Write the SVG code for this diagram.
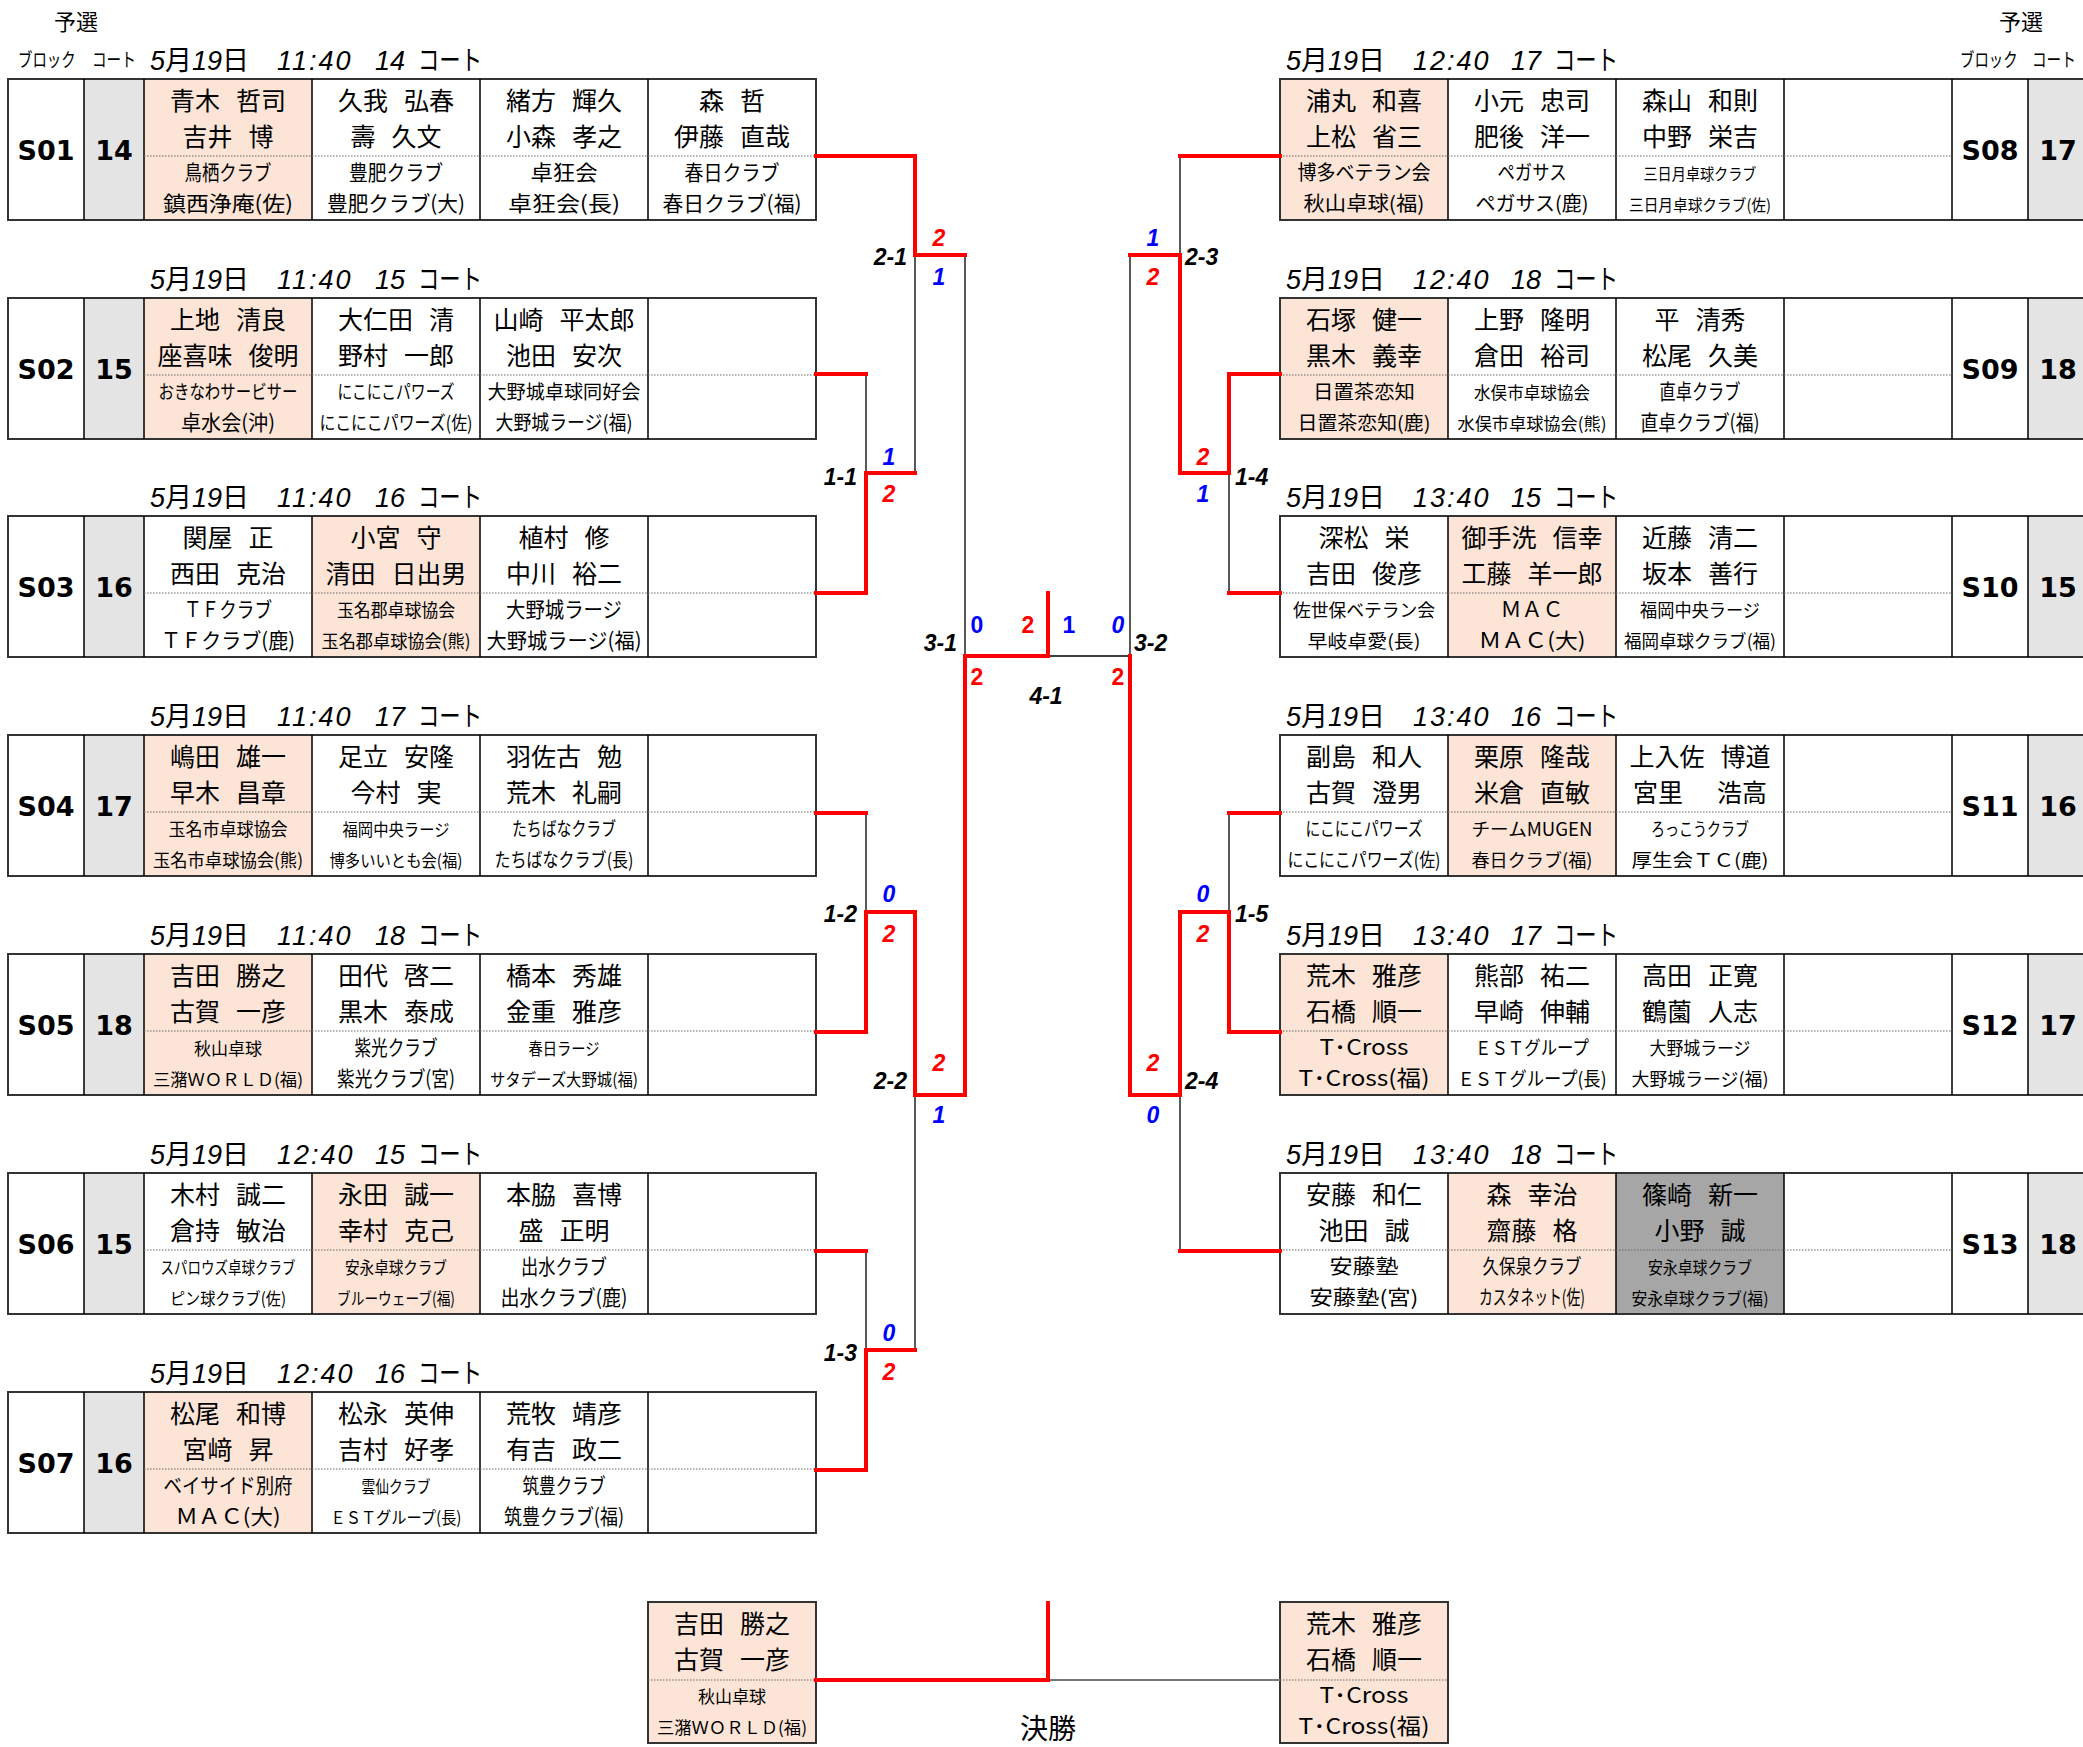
<svg xmlns="http://www.w3.org/2000/svg" xmlns:xlink="http://www.w3.org/1999/xlink" width="2083" height="1747" viewBox="0 0 2083 1747">
<style>
text{font-family:"Noto Sans CJK JP","Noto Sans CJK SC",sans-serif;fill:#000}
.nm{font-size:25px;text-anchor:middle}
.c{text-anchor:middle}
.dt{font-size:27px}
.it{font-family:"Liberation Sans",sans-serif;font-style:italic;font-size:27px}
.ls{letter-spacing:2px}
.bk{font-family:"DejaVu Sans",sans-serif;font-weight:bold;font-size:27px;text-anchor:middle}
.sc{font-family:"Liberation Sans",sans-serif;font-weight:bold;font-style:italic;font-size:23px;text-anchor:middle}
.su{font-style:normal}
.r{fill:#f00}.b{fill:#00f}
.lb{font-family:"Liberation Sans",sans-serif;font-weight:bold;font-style:italic;font-size:23px}
.hd{font-size:19px}
.red{stroke:#f00;stroke-width:4;fill:none;stroke-linejoin:miter;stroke-linecap:square}
.thin{stroke:#000;stroke-width:1.3;fill:none}
.fr{fill:none;stroke:#333;stroke-width:2}
.vl{stroke:#000;stroke-width:1.5;fill:none}
.hl{fill:#fce4d6}
.gr{fill:#e4e4e4}
.dk{fill:#a6a6a6}
.dot{stroke:#666;stroke-width:1;stroke-dasharray:1.5 1.5;fill:none}
</style>
<defs>
<g id="lf">
<rect class="gr" x="84" y="0" width="60" height="141"/>
<rect class="fr" x="8" y="0" width="808" height="141"/>
<path class="vl" d="M84,0V141M144,0V141M312,0V141M480,0V141M648,0V141"/>
<path class="dot" d="M144,77H816"/>
</g>
<g id="rf">
<rect class="gr" x="2028" y="0" width="60" height="141"/>
<rect class="fr" x="1280" y="0" width="808" height="141"/>
<path class="vl" d="M1448,0V141M1616,0V141M1784,0V141M1952,0V141M2028,0V141"/>
<path class="dot" d="M1280,77H1952"/>
</g>
</defs>
<rect x="0" y="0" width="2083" height="1747" fill="#fff"/>

<g id="headers">
<text x="54" y="30" font-size="22">予選</text>
<text class="hd" transform="translate(18,67) scale(0.76,1)">ブロック</text>
<text class="hd" transform="translate(92,67) scale(0.77,1)">コート</text>
<text x="1999" y="30" font-size="22">予選</text>
<text class="hd" transform="translate(1960,67) scale(0.76,1)">ブロック</text>
<text class="hd" transform="translate(2032,67) scale(0.77,1)">コート</text>
</g>

<!-- LEFT TABLES -->
<g id="S01" transform="translate(0,79)">
<rect class="hl" x="144" y="0" width="168" height="141"/>
<use href="#lf"/>
<text class="dt" y="-9"><tspan x="150" class="it">5</tspan>月<tspan class="it">19</tspan>日<tspan x="277" class="it ls">11:40</tspan><tspan x="375" class="it">14</tspan></text>
<text class="dt" x="418" y="-9" textLength="64" lengthAdjust="spacingAndGlyphs">コート</text>
<text class="bk" x="46" y="81">S01</text><text class="bk" x="114" y="81">14</text>
<text class="nm" x="228" y="31">青木<tspan dx="16">哲司</tspan></text><text class="nm" x="228" y="67">吉井<tspan dx="16">博</tspan></text>
<text class="c" x="228" y="101" font-size="21" textLength="87" lengthAdjust="spacingAndGlyphs">鳥栖クラブ</text>
<text class="c" x="228" y="132" font-size="21" textLength="130" lengthAdjust="spacingAndGlyphs">鎮西浄庵(佐)</text>
<text class="nm" x="396" y="31">久我<tspan dx="16">弘春</tspan></text><text class="nm" x="396" y="67">壽<tspan dx="16">久文</tspan></text>
<text class="c" x="396" y="101" font-size="21" textLength="94" lengthAdjust="spacingAndGlyphs">豊肥クラブ</text>
<text class="c" x="396" y="132" font-size="21" textLength="138" lengthAdjust="spacingAndGlyphs">豊肥クラブ(大)</text>
<text class="nm" x="564" y="31">緒方<tspan dx="16">輝久</tspan></text><text class="nm" x="564" y="67">小森<tspan dx="16">孝之</tspan></text>
<text class="c" x="564" y="101" font-size="21" textLength="67" lengthAdjust="spacingAndGlyphs">卓狂会</text>
<text class="c" x="564" y="132" font-size="21" textLength="112" lengthAdjust="spacingAndGlyphs">卓狂会(長)</text>
<text class="nm" x="732" y="31">森<tspan dx="16">哲</tspan></text><text class="nm" x="732" y="67">伊藤<tspan dx="16">直哉</tspan></text>
<text class="c" x="732" y="101" font-size="21" textLength="95" lengthAdjust="spacingAndGlyphs">春日クラブ</text>
<text class="c" x="732" y="132" font-size="21" textLength="139" lengthAdjust="spacingAndGlyphs">春日クラブ(福)</text>
</g>

<g id="S02" transform="translate(0,298)">
<rect class="hl" x="144" y="0" width="168" height="141"/>
<use href="#lf"/>
<text class="dt" y="-9"><tspan x="150" class="it">5</tspan>月<tspan class="it">19</tspan>日<tspan x="277" class="it ls">11:40</tspan><tspan x="375" class="it">15</tspan></text>
<text class="dt" x="418" y="-9" textLength="64" lengthAdjust="spacingAndGlyphs">コート</text>
<text class="bk" x="46" y="81">S02</text><text class="bk" x="114" y="81">15</text>
<text class="nm" x="228" y="31">上地<tspan dx="16">清良</tspan></text><text class="nm" x="228" y="67">座喜味<tspan dx="16">俊明</tspan></text>
<text class="c" x="228" y="101" font-size="19" textLength="139" lengthAdjust="spacingAndGlyphs">おきなわサービサー</text>
<text class="c" x="228" y="132" font-size="21" textLength="94" lengthAdjust="spacingAndGlyphs">卓水会(沖)</text>
<text class="nm" x="396" y="31">大仁田<tspan dx="16">清</tspan></text><text class="nm" x="396" y="67">野村<tspan dx="16">一郎</tspan></text>
<text class="c" x="396" y="101" font-size="19" textLength="117" lengthAdjust="spacingAndGlyphs">にこにこパワーズ</text>
<text class="c" x="396" y="132" font-size="19" textLength="153" lengthAdjust="spacingAndGlyphs">にこにこパワーズ(佐)</text>
<text class="nm" x="564" y="31">山崎<tspan dx="16">平太郎</tspan></text><text class="nm" x="564" y="67">池田<tspan dx="16">安次</tspan></text>
<text class="c" x="564" y="101" font-size="19" textLength="153" lengthAdjust="spacingAndGlyphs">大野城卓球同好会</text>
<text class="c" x="564" y="132" font-size="20" textLength="137" lengthAdjust="spacingAndGlyphs">大野城ラージ(福)</text>
</g>

<g id="S03" transform="translate(0,516)">
<rect class="hl" x="312" y="0" width="168" height="141"/>
<use href="#lf"/>
<text class="dt" y="-9"><tspan x="150" class="it">5</tspan>月<tspan class="it">19</tspan>日<tspan x="277" class="it ls">11:40</tspan><tspan x="375" class="it">16</tspan></text>
<text class="dt" x="418" y="-9" textLength="64" lengthAdjust="spacingAndGlyphs">コート</text>
<text class="bk" x="46" y="81">S03</text><text class="bk" x="114" y="81">16</text>
<text class="nm" x="228" y="31">関屋<tspan dx="16">正</tspan></text><text class="nm" x="228" y="67">西田<tspan dx="16">克治</tspan></text>
<text class="c" x="228" y="101" font-size="21" textLength="88" lengthAdjust="spacingAndGlyphs">ＴＦクラブ</text>
<text class="c" x="228" y="132" font-size="21" textLength="134" lengthAdjust="spacingAndGlyphs">ＴＦクラブ(鹿)</text>
<text class="nm" x="396" y="31">小宮<tspan dx="16">守</tspan></text><text class="nm" x="396" y="67">清田<tspan dx="16">日出男</tspan></text>
<text class="c" x="396" y="101" font-size="18" textLength="118" lengthAdjust="spacingAndGlyphs">玉名郡卓球協会</text>
<text class="c" x="396" y="132" font-size="18" textLength="149" lengthAdjust="spacingAndGlyphs">玉名郡卓球協会(熊)</text>
<text class="nm" x="564" y="31">植村<tspan dx="16">修</tspan></text><text class="nm" x="564" y="67">中川<tspan dx="16">裕二</tspan></text>
<text class="c" x="564" y="101" font-size="21" textLength="116" lengthAdjust="spacingAndGlyphs">大野城ラージ</text>
<text class="c" x="564" y="132" font-size="21" textLength="155" lengthAdjust="spacingAndGlyphs">大野城ラージ(福)</text>
</g>

<g id="S04" transform="translate(0,735)">
<rect class="hl" x="144" y="0" width="168" height="141"/>
<use href="#lf"/>
<text class="dt" y="-9"><tspan x="150" class="it">5</tspan>月<tspan class="it">19</tspan>日<tspan x="277" class="it ls">11:40</tspan><tspan x="375" class="it">17</tspan></text>
<text class="dt" x="418" y="-9" textLength="64" lengthAdjust="spacingAndGlyphs">コート</text>
<text class="bk" x="46" y="81">S04</text><text class="bk" x="114" y="81">17</text>
<text class="nm" x="228" y="31">嶋田<tspan dx="16">雄一</tspan></text><text class="nm" x="228" y="67">早木<tspan dx="16">昌章</tspan></text>
<text class="c" x="228" y="101" font-size="18" textLength="119" lengthAdjust="spacingAndGlyphs">玉名市卓球協会</text>
<text class="c" x="228" y="132" font-size="18" textLength="150" lengthAdjust="spacingAndGlyphs">玉名市卓球協会(熊)</text>
<text class="nm" x="396" y="31">足立<tspan dx="16">安隆</tspan></text><text class="nm" x="396" y="67">今村<tspan dx="16">実</tspan></text>
<text class="c" x="396" y="101" font-size="17" textLength="107" lengthAdjust="spacingAndGlyphs">福岡中央ラージ</text>
<text class="c" x="396" y="132" font-size="17" textLength="133" lengthAdjust="spacingAndGlyphs">博多いいとも会(福)</text>
<text class="nm" x="564" y="31">羽佐古<tspan dx="16">勉</tspan></text><text class="nm" x="564" y="67">荒木<tspan dx="16">礼嗣</tspan></text>
<text class="c" x="564" y="101" font-size="19" textLength="104" lengthAdjust="spacingAndGlyphs">たちばなクラブ</text>
<text class="c" x="564" y="132" font-size="19" textLength="139" lengthAdjust="spacingAndGlyphs">たちばなクラブ(長)</text>
</g>

<g id="S05" transform="translate(0,954)">
<rect class="hl" x="144" y="0" width="168" height="141"/>
<use href="#lf"/>
<text class="dt" y="-9"><tspan x="150" class="it">5</tspan>月<tspan class="it">19</tspan>日<tspan x="277" class="it ls">11:40</tspan><tspan x="375" class="it">18</tspan></text>
<text class="dt" x="418" y="-9" textLength="64" lengthAdjust="spacingAndGlyphs">コート</text>
<text class="bk" x="46" y="81">S05</text><text class="bk" x="114" y="81">18</text>
<text class="nm" x="228" y="31">吉田<tspan dx="16">勝之</tspan></text><text class="nm" x="228" y="67">古賀<tspan dx="16">一彦</tspan></text>
<text class="c" x="228" y="101" font-size="17" textLength="68" lengthAdjust="spacingAndGlyphs">秋山卓球</text>
<text class="c" x="228" y="132" font-size="17" textLength="150" lengthAdjust="spacingAndGlyphs">三潴ＷＯＲＬＤ(福)</text>
<text class="nm" x="396" y="31">田代<tspan dx="16">啓二</tspan></text><text class="nm" x="396" y="67">黒木<tspan dx="16">泰成</tspan></text>
<text class="c" x="396" y="101" font-size="21" textLength="83" lengthAdjust="spacingAndGlyphs">紫光クラブ</text>
<text class="c" x="396" y="132" font-size="21" textLength="118" lengthAdjust="spacingAndGlyphs">紫光クラブ(宮)</text>
<text class="nm" x="564" y="31">橋本<tspan dx="16">秀雄</tspan></text><text class="nm" x="564" y="67">金重<tspan dx="16">雅彦</tspan></text>
<text class="c" x="564" y="101" font-size="17" textLength="71" lengthAdjust="spacingAndGlyphs">春日ラージ</text>
<text class="c" x="564" y="132" font-size="17" textLength="148" lengthAdjust="spacingAndGlyphs">サタデーズ大野城(福)</text>
</g>

<g id="S06" transform="translate(0,1173)">
<rect class="hl" x="312" y="0" width="168" height="141"/>
<use href="#lf"/>
<text class="dt" y="-9"><tspan x="150" class="it">5</tspan>月<tspan class="it">19</tspan>日<tspan x="277" class="it ls">12:40</tspan><tspan x="375" class="it">15</tspan></text>
<text class="dt" x="418" y="-9" textLength="64" lengthAdjust="spacingAndGlyphs">コート</text>
<text class="bk" x="46" y="81">S06</text><text class="bk" x="114" y="81">15</text>
<text class="nm" x="228" y="31">木村<tspan dx="16">誠二</tspan></text><text class="nm" x="228" y="67">倉持<tspan dx="16">敏治</tspan></text>
<text class="c" x="228" y="101" font-size="17" textLength="135" lengthAdjust="spacingAndGlyphs">スパロウズ卓球クラブ</text>
<text class="c" x="228" y="132" font-size="17" textLength="116" lengthAdjust="spacingAndGlyphs">ピン球クラブ(佐)</text>
<text class="nm" x="396" y="31">永田<tspan dx="16">誠一</tspan></text><text class="nm" x="396" y="67">幸村<tspan dx="16">克己</tspan></text>
<text class="c" x="396" y="101" font-size="17" textLength="102" lengthAdjust="spacingAndGlyphs">安永卓球クラブ</text>
<text class="c" x="396" y="132" font-size="17" textLength="118" lengthAdjust="spacingAndGlyphs">ブルーウェーブ(福)</text>
<text class="nm" x="564" y="31">本脇<tspan dx="16">喜博</tspan></text><text class="nm" x="564" y="67">盛<tspan dx="16">正明</tspan></text>
<text class="c" x="564" y="101" font-size="21" textLength="86" lengthAdjust="spacingAndGlyphs">出水クラブ</text>
<text class="c" x="564" y="132" font-size="21" textLength="127" lengthAdjust="spacingAndGlyphs">出水クラブ(鹿)</text>
</g>

<g id="S07" transform="translate(0,1392)">
<rect class="hl" x="144" y="0" width="168" height="141"/>
<use href="#lf"/>
<text class="dt" y="-9"><tspan x="150" class="it">5</tspan>月<tspan class="it">19</tspan>日<tspan x="277" class="it ls">12:40</tspan><tspan x="375" class="it">16</tspan></text>
<text class="dt" x="418" y="-9" textLength="64" lengthAdjust="spacingAndGlyphs">コート</text>
<text class="bk" x="46" y="81">S07</text><text class="bk" x="114" y="81">16</text>
<text class="nm" x="228" y="31">松尾<tspan dx="16">和博</tspan></text><text class="nm" x="228" y="67">宮﨑<tspan dx="16">昇</tspan></text>
<text class="c" x="228" y="101" font-size="21" textLength="129" lengthAdjust="spacingAndGlyphs">ベイサイド別府</text>
<text class="c" x="228" y="132" font-size="21" textLength="105" lengthAdjust="spacingAndGlyphs">ＭＡＣ(大)</text>
<text class="nm" x="396" y="31">松永<tspan dx="16">英伸</tspan></text><text class="nm" x="396" y="67">吉村<tspan dx="16">好孝</tspan></text>
<text class="c" x="396" y="101" font-size="17" textLength="69" lengthAdjust="spacingAndGlyphs">雲仙クラブ</text>
<text class="c" x="396" y="132" font-size="17" textLength="131" lengthAdjust="spacingAndGlyphs">ＥＳＴグループ(長)</text>
<text class="nm" x="564" y="31">荒牧<tspan dx="16">靖彦</tspan></text><text class="nm" x="564" y="67">有吉<tspan dx="16">政二</tspan></text>
<text class="c" x="564" y="101" font-size="21" textLength="83" lengthAdjust="spacingAndGlyphs">筑豊クラブ</text>
<text class="c" x="564" y="132" font-size="21" textLength="120" lengthAdjust="spacingAndGlyphs">筑豊クラブ(福)</text>
</g>

<!-- RIGHT TABLES -->
<g id="S08" transform="translate(0,79)">
<rect class="hl" x="1280" y="0" width="168" height="141"/>
<use href="#rf"/>
<text class="dt" y="-9"><tspan x="1286" class="it">5</tspan>月<tspan class="it">19</tspan>日<tspan x="1413" class="it ls">12:40</tspan><tspan x="1511" class="it">17</tspan></text>
<text class="dt" x="1554" y="-9" textLength="64" lengthAdjust="spacingAndGlyphs">コート</text>
<text class="bk" x="1990" y="81">S08</text><text class="bk" x="2058" y="81">17</text>
<text class="nm" x="1364" y="31">浦丸<tspan dx="16">和喜</tspan></text><text class="nm" x="1364" y="67">上松<tspan dx="16">省三</tspan></text>
<text class="c" x="1364" y="101" font-size="20" textLength="133" lengthAdjust="spacingAndGlyphs">博多ベテラン会</text>
<text class="c" x="1364" y="132" font-size="20" textLength="121" lengthAdjust="spacingAndGlyphs">秋山卓球(福)</text>
<text class="nm" x="1532" y="31">小元<tspan dx="16">忠司</tspan></text><text class="nm" x="1532" y="67">肥後<tspan dx="16">洋一</tspan></text>
<text class="c" x="1532" y="101" font-size="20" textLength="69" lengthAdjust="spacingAndGlyphs">ペガサス</text>
<text class="c" x="1532" y="132" font-size="20" textLength="113" lengthAdjust="spacingAndGlyphs">ペガサス(鹿)</text>
<text class="nm" x="1700" y="31">森山<tspan dx="16">和則</tspan></text><text class="nm" x="1700" y="67">中野<tspan dx="16">栄吉</tspan></text>
<text class="c" x="1700" y="101" font-size="16" textLength="113" lengthAdjust="spacingAndGlyphs">三日月卓球クラブ</text>
<text class="c" x="1700" y="132" font-size="16" textLength="142" lengthAdjust="spacingAndGlyphs">三日月卓球クラブ(佐)</text>
</g>

<g id="S09" transform="translate(0,298)">
<rect class="hl" x="1280" y="0" width="168" height="141"/>
<use href="#rf"/>
<text class="dt" y="-9"><tspan x="1286" class="it">5</tspan>月<tspan class="it">19</tspan>日<tspan x="1413" class="it ls">12:40</tspan><tspan x="1511" class="it">18</tspan></text>
<text class="dt" x="1554" y="-9" textLength="64" lengthAdjust="spacingAndGlyphs">コート</text>
<text class="bk" x="1990" y="81">S09</text><text class="bk" x="2058" y="81">18</text>
<text class="nm" x="1364" y="31">石塚<tspan dx="16">健一</tspan></text><text class="nm" x="1364" y="67">黒木<tspan dx="16">義幸</tspan></text>
<text class="c" x="1364" y="101" font-size="19" textLength="102" lengthAdjust="spacingAndGlyphs">日置茶恋知</text>
<text class="c" x="1364" y="132" font-size="19" textLength="133" lengthAdjust="spacingAndGlyphs">日置茶恋知(鹿)</text>
<text class="nm" x="1532" y="31">上野<tspan dx="16">隆明</tspan></text><text class="nm" x="1532" y="67">倉田<tspan dx="16">裕司</tspan></text>
<text class="c" x="1532" y="101" font-size="17" textLength="116" lengthAdjust="spacingAndGlyphs">水俣市卓球協会</text>
<text class="c" x="1532" y="132" font-size="17" textLength="149" lengthAdjust="spacingAndGlyphs">水俣市卓球協会(熊)</text>
<text class="nm" x="1700" y="31">平<tspan dx="16">清秀</tspan></text><text class="nm" x="1700" y="67">松尾<tspan dx="16">久美</tspan></text>
<text class="c" x="1700" y="101" font-size="21" textLength="81" lengthAdjust="spacingAndGlyphs">直卓クラブ</text>
<text class="c" x="1700" y="132" font-size="21" textLength="119" lengthAdjust="spacingAndGlyphs">直卓クラブ(福)</text>
</g>

<g id="S10" transform="translate(0,516)">
<rect class="hl" x="1448" y="0" width="168" height="141"/>
<use href="#rf"/>
<text class="dt" y="-9"><tspan x="1286" class="it">5</tspan>月<tspan class="it">19</tspan>日<tspan x="1413" class="it ls">13:40</tspan><tspan x="1511" class="it">15</tspan></text>
<text class="dt" x="1554" y="-9" textLength="64" lengthAdjust="spacingAndGlyphs">コート</text>
<text class="bk" x="1990" y="81">S10</text><text class="bk" x="2058" y="81">15</text>
<text class="nm" x="1364" y="31">深松<tspan dx="16">栄</tspan></text><text class="nm" x="1364" y="67">吉田<tspan dx="16">俊彦</tspan></text>
<text class="c" x="1364" y="101" font-size="18" textLength="142" lengthAdjust="spacingAndGlyphs">佐世保ベテラン会</text>
<text class="c" x="1364" y="132" font-size="18" textLength="113" lengthAdjust="spacingAndGlyphs">早岐卓愛(長)</text>
<text class="nm" x="1532" y="31">御手洗<tspan dx="16">信幸</tspan></text><text class="nm" x="1532" y="67">工藤<tspan dx="16">羊一郎</tspan></text>
<text class="c" x="1532" y="101" font-size="21" textLength="63" lengthAdjust="spacingAndGlyphs">ＭＡＣ</text>
<text class="c" x="1532" y="132" font-size="21" textLength="107" lengthAdjust="spacingAndGlyphs">ＭＡＣ(大)</text>
<text class="nm" x="1700" y="31">近藤<tspan dx="16">清二</tspan></text><text class="nm" x="1700" y="67">坂本<tspan dx="16">善行</tspan></text>
<text class="c" x="1700" y="101" font-size="18" textLength="120" lengthAdjust="spacingAndGlyphs">福岡中央ラージ</text>
<text class="c" x="1700" y="132" font-size="18" textLength="152" lengthAdjust="spacingAndGlyphs">福岡卓球クラブ(福)</text>
</g>

<g id="S11" transform="translate(0,735)">
<rect class="hl" x="1448" y="0" width="168" height="141"/>
<use href="#rf"/>
<text class="dt" y="-9"><tspan x="1286" class="it">5</tspan>月<tspan class="it">19</tspan>日<tspan x="1413" class="it ls">13:40</tspan><tspan x="1511" class="it">16</tspan></text>
<text class="dt" x="1554" y="-9" textLength="64" lengthAdjust="spacingAndGlyphs">コート</text>
<text class="bk" x="1990" y="81">S11</text><text class="bk" x="2058" y="81">16</text>
<text class="nm" x="1364" y="31">副島<tspan dx="16">和人</tspan></text><text class="nm" x="1364" y="67">古賀<tspan dx="16">澄男</tspan></text>
<text class="c" x="1364" y="101" font-size="19" textLength="117" lengthAdjust="spacingAndGlyphs">にこにこパワーズ</text>
<text class="c" x="1364" y="132" font-size="19" textLength="153" lengthAdjust="spacingAndGlyphs">にこにこパワーズ(佐)</text>
<text class="nm" x="1532" y="31">栗原<tspan dx="16">隆哉</tspan></text><text class="nm" x="1532" y="67">米倉<tspan dx="16">直敏</tspan></text>
<text class="c" x="1532" y="101" font-size="18" textLength="121" lengthAdjust="spacingAndGlyphs">チームMUGEN</text>
<text class="c" x="1532" y="132" font-size="18" textLength="121" lengthAdjust="spacingAndGlyphs">春日クラブ(福)</text>
<text class="nm" x="1700" y="31">上入佐<tspan dx="16">博道</tspan></text><text class="nm" x="1700" y="67">宮里<tspan dx="34">浩高</tspan></text>
<text class="c" x="1700" y="101" font-size="18" textLength="98" lengthAdjust="spacingAndGlyphs">ろっこうクラブ</text>
<text class="c" x="1700" y="132" font-size="18" textLength="137" lengthAdjust="spacingAndGlyphs">厚生会ＴＣ(鹿)</text>
</g>

<g id="S12" transform="translate(0,954)">
<rect class="hl" x="1280" y="0" width="168" height="141"/>
<use href="#rf"/>
<text class="dt" y="-9"><tspan x="1286" class="it">5</tspan>月<tspan class="it">19</tspan>日<tspan x="1413" class="it ls">13:40</tspan><tspan x="1511" class="it">17</tspan></text>
<text class="dt" x="1554" y="-9" textLength="64" lengthAdjust="spacingAndGlyphs">コート</text>
<text class="bk" x="1990" y="81">S12</text><text class="bk" x="2058" y="81">17</text>
<text class="nm" x="1364" y="31">荒木<tspan dx="16">雅彦</tspan></text><text class="nm" x="1364" y="67">石橋<tspan dx="16">順一</tspan></text>
<text class="c" x="1364" y="101" font-size="22" textLength="89" lengthAdjust="spacingAndGlyphs">T･Cross</text>
<text class="c" x="1364" y="132" font-size="22" textLength="131" lengthAdjust="spacingAndGlyphs">T･Cross(福)</text>
<text class="nm" x="1532" y="31">熊部<tspan dx="16">祐二</tspan></text><text class="nm" x="1532" y="67">早崎<tspan dx="16">伸輔</tspan></text>
<text class="c" x="1532" y="101" font-size="19" textLength="114" lengthAdjust="spacingAndGlyphs">ＥＳＴグループ</text>
<text class="c" x="1532" y="132" font-size="19" textLength="149" lengthAdjust="spacingAndGlyphs">ＥＳＴグループ(長)</text>
<text class="nm" x="1700" y="31">高田<tspan dx="16">正寛</tspan></text><text class="nm" x="1700" y="67">鶴薗<tspan dx="16">人志</tspan></text>
<text class="c" x="1700" y="101" font-size="18" textLength="101" lengthAdjust="spacingAndGlyphs">大野城ラージ</text>
<text class="c" x="1700" y="132" font-size="18" textLength="137" lengthAdjust="spacingAndGlyphs">大野城ラージ(福)</text>
</g>

<g id="S13" transform="translate(0,1173)">
<rect class="hl" x="1448" y="0" width="168" height="141"/>
<rect class="dk" x="1616" y="0" width="168" height="141"/>
<use href="#rf"/>
<text class="dt" y="-9"><tspan x="1286" class="it">5</tspan>月<tspan class="it">19</tspan>日<tspan x="1413" class="it ls">13:40</tspan><tspan x="1511" class="it">18</tspan></text>
<text class="dt" x="1554" y="-9" textLength="64" lengthAdjust="spacingAndGlyphs">コート</text>
<text class="bk" x="1990" y="81">S13</text><text class="bk" x="2058" y="81">18</text>
<text class="nm" x="1364" y="31">安藤<tspan dx="16">和仁</tspan></text><text class="nm" x="1364" y="67">池田<tspan dx="16">誠</tspan></text>
<text class="c" x="1364" y="101" font-size="20" textLength="69" lengthAdjust="spacingAndGlyphs">安藤塾</text>
<text class="c" x="1364" y="132" font-size="20" textLength="109" lengthAdjust="spacingAndGlyphs">安藤塾(宮)</text>
<text class="nm" x="1532" y="31">森<tspan dx="16">幸治</tspan></text><text class="nm" x="1532" y="67">齋藤<tspan dx="16">格</tspan></text>
<text class="c" x="1532" y="101" font-size="20" textLength="99" lengthAdjust="spacingAndGlyphs">久保泉クラブ</text>
<text class="c" x="1532" y="132" font-size="20" textLength="106" lengthAdjust="spacingAndGlyphs">カスタネット(佐)</text>
<text class="nm" x="1700" y="31">篠崎<tspan dx="16">新一</tspan></text><text class="nm" x="1700" y="67">小野<tspan dx="16">誠</tspan></text>
<text class="c" x="1700" y="101" font-size="17" textLength="104" lengthAdjust="spacingAndGlyphs">安永卓球クラブ</text>
<text class="c" x="1700" y="132" font-size="17" textLength="137" lengthAdjust="spacingAndGlyphs">安永卓球クラブ(福)</text>
</g>

<!-- FINAL -->
<g id="F-left" transform="translate(0,1602)">
<rect class="hl" x="648" y="0" width="168" height="141"/>
<rect class="fr" x="648" y="0" width="168" height="141"/>
<path class="dot" d="M648,78H816"/>
<text class="nm" x="732" y="31">吉田<tspan dx="16">勝之</tspan></text><text class="nm" x="732" y="67">古賀<tspan dx="16">一彦</tspan></text>
<text class="c" x="732" y="101" font-size="17" textLength="68" lengthAdjust="spacingAndGlyphs">秋山卓球</text>
<text class="c" x="732" y="132" font-size="17" textLength="150" lengthAdjust="spacingAndGlyphs">三潴ＷＯＲＬＤ(福)</text>
</g>
<g id="F-right" transform="translate(0,1602)">
<rect class="hl" x="1280" y="0" width="168" height="141"/>
<rect class="fr" x="1280" y="0" width="168" height="141"/>
<path class="dot" d="M1280,78H1448"/>
<text class="nm" x="1364" y="31">荒木<tspan dx="16">雅彦</tspan></text><text class="nm" x="1364" y="67">石橋<tspan dx="16">順一</tspan></text>
<text class="c" x="1364" y="101" font-size="22" textLength="89" lengthAdjust="spacingAndGlyphs">T･Cross</text>
<text class="c" x="1364" y="132" font-size="22" textLength="131" lengthAdjust="spacingAndGlyphs">T･Cross(福)</text>
</g>
<text id="final-label" x="1048" y="1739" font-size="28" text-anchor="middle">決勝</text>

<g id="connectors">
<path class="thin" d="M866,374V473M915,255V473M965,255V656M866,813V912M866,1251V1350M915,1095V1350"/>
<path class="thin" d="M1180,156V255M1229,473V593M1130,255V656M1229,813V912M1180,1095V1251M1048,656H1130"/>
<path d="M1048,1680H1280" stroke="#777" stroke-width="2" fill="none"/>
<path class="red" d="M816,156H915V255H965"/>
<path class="red" d="M816,374H866"/>
<path class="red" d="M816,593H866V473H915"/>
<path class="red" d="M816,813H866"/>
<path class="red" d="M816,1032H866V912H915V1095H965V656H1048V593"/>
<path class="red" d="M816,1251H866"/>
<path class="red" d="M816,1470H866V1350H915"/>
<path class="red" d="M1280,156H1180"/>
<path class="red" d="M1280,374H1229V473H1180V255H1130"/>
<path class="red" d="M1280,593H1229"/>
<path class="red" d="M1280,813H1229"/>
<path class="red" d="M1280,1032H1229V912H1180V1095H1130V656"/>
<path class="red" d="M1280,1251H1180"/>
<path class="red" d="M816,1680H1048V1603"/>
</g>

<g id="scores">
<text class="sc r" x="939" y="246">2</text><text class="sc b" x="939" y="285">1</text>
<text class="lb" x="907" y="265" text-anchor="end">2-1</text>
<text class="sc b" x="889" y="465">1</text><text class="sc r" x="889" y="502">2</text>
<text class="lb" x="857" y="485" text-anchor="end">1-1</text>
<text class="sc b" x="889" y="902">0</text><text class="sc r" x="889" y="942">2</text>
<text class="lb" x="857" y="922" text-anchor="end">1-2</text>
<text class="sc r" x="939" y="1071">2</text><text class="sc b" x="939" y="1123">1</text>
<text class="lb" x="907" y="1089" text-anchor="end">2-2</text>
<text class="sc b" x="889" y="1341">0</text><text class="sc r" x="889" y="1380">2</text>
<text class="lb" x="857" y="1361" text-anchor="end">1-3</text>
<text class="sc b su" x="977" y="633">0</text><text class="sc r su" x="1028" y="633">2</text>
<text class="sc b su" x="1069" y="633">1</text><text class="sc b" x="1118" y="633">0</text>
<text class="lb" x="957" y="651" text-anchor="end">3-1</text>
<text class="lb" x="1134" y="651">3-2</text>
<text class="sc r su" x="977" y="685">2</text><text class="sc r su" x="1118" y="685">2</text>
<text class="lb" x="1046" y="704" text-anchor="middle">4-1</text>
<text class="sc b" x="1153" y="246">1</text><text class="sc r" x="1153" y="285">2</text>
<text class="lb" x="1185" y="265">2-3</text>
<text class="sc r" x="1203" y="465">2</text><text class="sc b" x="1203" y="502">1</text>
<text class="lb" x="1235" y="485">1-4</text>
<text class="sc b" x="1203" y="902">0</text><text class="sc r" x="1203" y="942">2</text>
<text class="lb" x="1235" y="922">1-5</text>
<text class="sc r" x="1153" y="1071">2</text><text class="sc b" x="1153" y="1123">0</text>
<text class="lb" x="1185" y="1089">2-4</text>
</g>
</svg>
